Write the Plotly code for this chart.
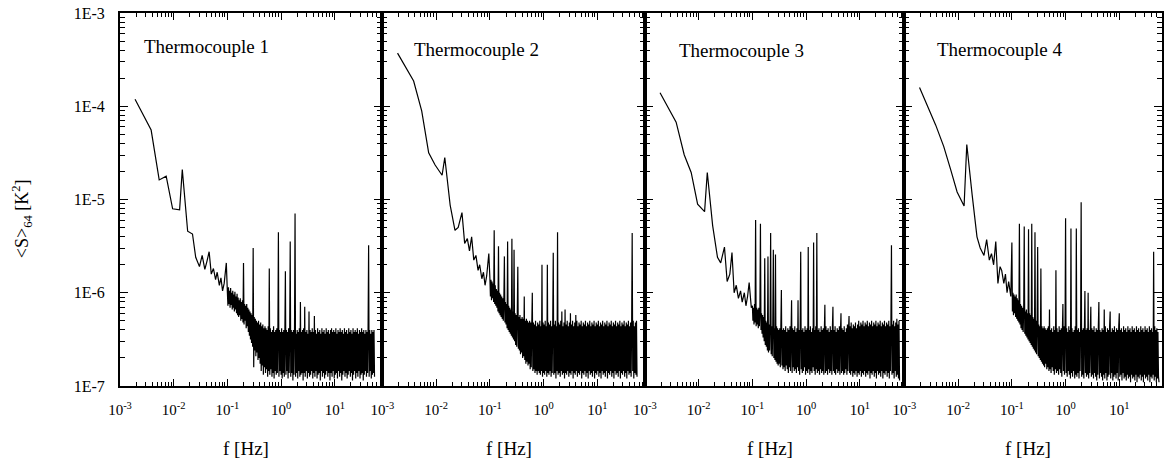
import plotly.graph_objects as go

# frequency bins, log10(f / Hz)
LOG_F = [
    -2.72, -2.42, -2.27, -2.14, -2.02, -1.89, -1.84, -1.74, -1.65, -1.59,
    -1.52, -1.47, -1.42, -1.38, -1.34, -1.30, -1.26, -1.22, -1.19, -1.15,
    -1.12, -1.09, -1.06, -1.02,
    -1.00, -0.99, -0.98, -0.97, -0.96, -0.95, -0.94, -0.93, -0.92, -0.91,
    -0.90, -0.89, -0.88, -0.87, -0.86, -0.85, -0.84, -0.83, -0.82, -0.81,
    -0.80, -0.79, -0.78, -0.77, -0.76, -0.75, -0.74, -0.73, -0.72, -0.71,
    -0.70, -0.69, -0.68, -0.67, -0.66, -0.65, -0.64, -0.63, -0.62, -0.61,
    -0.60, -0.59, -0.58, -0.57, -0.56, -0.55, -0.54, -0.53, -0.52, -0.51,
    -0.50, -0.49, -0.48, -0.47, -0.46, -0.45, -0.44, -0.43, -0.42, -0.41,
    -0.40, -0.39, -0.38, -0.37, -0.36, -0.35, -0.34, -0.33, -0.32, -0.31,
    -0.30, -0.29, -0.28, -0.27, -0.26, -0.25, -0.24, -0.23, -0.22, -0.21,
    -0.20, -0.19, -0.18, -0.17, -0.16, -0.15, -0.14, -0.13, -0.12, -0.11,
    -0.10, -0.09, -0.08, -0.07, -0.06, -0.05, -0.04, -0.03, -0.02, -0.01,
    0.00, 0.01, 0.02, 0.03, 0.04, 0.05, 0.06, 0.07, 0.08, 0.09,
    0.10, 0.11, 0.12, 0.13, 0.14, 0.15, 0.16, 0.17, 0.18, 0.19,
    0.20, 0.21, 0.22, 0.23, 0.24, 0.25, 0.26, 0.27, 0.28, 0.29,
    0.30, 0.31, 0.32, 0.33, 0.34, 0.35, 0.36, 0.37, 0.38, 0.39,
    0.40, 0.41, 0.42, 0.43, 0.44, 0.45, 0.46, 0.47, 0.48, 0.49,
    0.50, 0.51, 0.52, 0.53, 0.54, 0.55, 0.56, 0.57, 0.58, 0.59,
    0.60, 0.61, 0.62, 0.63, 0.64, 0.65, 0.66, 0.67, 0.68, 0.69,
    0.70, 0.71, 0.72, 0.73, 0.74, 0.75, 0.76, 0.77, 0.78, 0.79,
    0.80, 0.81, 0.82, 0.83, 0.84, 0.85, 0.86, 0.87, 0.88, 0.89,
    0.90, 0.91, 0.92, 0.93, 0.94, 0.95, 0.96, 0.97, 0.98, 0.99,
    1.00, 1.01, 1.02, 1.03, 1.04, 1.05, 1.06, 1.07, 1.08, 1.09,
    1.10, 1.11, 1.12, 1.13, 1.14, 1.15, 1.16, 1.17, 1.18, 1.19,
    1.20, 1.21, 1.22, 1.23, 1.24, 1.25, 1.26, 1.27, 1.28, 1.29,
    1.30, 1.31, 1.32, 1.33, 1.34, 1.35, 1.36, 1.37, 1.38, 1.39,
    1.40, 1.41, 1.42, 1.43, 1.44, 1.45, 1.46, 1.47, 1.48, 1.49,
    1.50, 1.51, 1.52, 1.53, 1.54, 1.55, 1.56, 1.57, 1.58, 1.59,
    1.60, 1.61, 1.62, 1.63, 1.64, 1.65, 1.66, 1.67, 1.68, 1.69,
    1.70, 1.71, 1.72, 1.73, 1.74,
]

# spectra, log10(<S>64 / K^2)
TC1_LOG_S = [
    -3.925, -4.255, -4.79, -4.75, -5.10, -5.11, -4.68, -5.34, -5.37, -5.62,
    -5.72, -5.60, -5.75, -5.66, -5.56, -5.80, -5.74, -5.86, -5.78, -5.92,
    -5.84, -5.98, -5.90, -5.68,
    -6.00, -6.14, -5.94, -6.12, -5.98, -6.16, -5.95, -6.13, -6.00, -6.18,
    -5.98, -6.16, -6.02, -6.20, -5.99, -6.18, -6.04, -6.22, -6.01, -6.24,
    -6.05, -6.26, -6.08, -6.24, -6.06, -6.30, -6.10, -6.28, -6.08, -6.32,
    -5.68, -6.34, -6.12, -6.30, -6.14, -6.38, -6.12, -6.36, -6.16, -6.42,
    -6.18, -6.46, -6.20, -6.50, -6.22, -6.54, -6.24, -6.58, -5.52, -6.80,
    -6.26, -6.62, -6.28, -6.68, -6.30, -6.64, -6.32, -6.72, -6.30, -6.70,
    -6.34, -6.76, -6.32, -6.84, -6.36, -6.78, -6.34, -6.88, -6.38, -6.80,
    -6.36, -6.86, -6.38, -6.82, -6.40, -6.90, -6.36, -6.84, -5.74, -6.88,
    -6.38, -6.82, -6.42, -6.90, -6.40, -6.86, -6.36, -6.92, -6.42, -6.84,
    -6.40, -6.88, -6.38, -6.86, -6.44, -5.35, -6.90, -6.40, -6.84, -6.42,
    -6.88, -6.38, -6.92, -6.42, -6.86, -6.40, -6.90, -6.44, -5.77, -6.88,
    -6.40, -6.84, -6.42, -6.92, -6.38, -6.86, -6.44, -5.45, -6.90, -6.40,
    -6.86, -6.42, -6.94, -6.40, -6.88, -6.38, -5.15, -6.90, -6.44, -6.86,
    -6.40, -6.92, -6.42, -6.84, -6.38, -6.90, -6.10, -6.88, -6.42, -6.86,
    -6.40, -6.94, -6.38, -6.86, -6.15, -6.90, -6.42, -6.84, -6.40, -6.92,
    -6.44, -6.86, -6.20, -6.90, -6.40, -6.88, -6.42, -6.84, -6.38, -6.92,
    -6.42, -6.86, -6.25, -6.90, -6.40, -6.84, -6.44, -6.92, -6.38, -6.88,
    -6.42, -6.86, -6.40, -6.94, -6.44, -6.84, -6.38, -6.90, -6.42, -6.86,
    -6.40, -6.92, -6.44, -6.88, -6.38, -6.84, -6.42, -6.90, -6.40, -6.86,
    -6.44, -6.94, -6.40, -6.86, -6.38, -6.90, -6.42, -6.84, -6.40, -6.92,
    -6.42, -6.88, -6.38, -6.86, -6.44, -6.92, -6.40, -6.84, -6.42, -6.90,
    -6.38, -6.86, -6.42, -6.94, -6.40, -6.88, -6.44, -6.84, -6.38, -6.90,
    -6.42, -6.86, -6.40, -6.92, -6.44, -6.88, -6.38, -6.84, -6.42, -6.90,
    -6.40, -6.86, -6.44, -6.94, -6.38, -6.88, -6.42, -6.84, -6.40, -6.92,
    -6.42, -6.86, -6.38, -6.90, -6.44, -6.84, -6.40, -6.92, -6.42, -6.88,
    -6.38, -6.86, -6.42, -6.94, -6.40, -6.88, -6.44, -6.84, -6.40, -6.90,
    -6.42, -6.86, -6.38, -5.49, -6.90, -6.40, -6.84, -6.44, -6.92, -6.40,
    -6.88, -6.42, -6.86, -6.40, -6.90,
]

TC2_LOG_S = [
    -3.43, -3.73, -4.05, -4.50, -4.63, -4.74, -4.55, -5.06, -5.33, -5.30,
    -5.14, -5.47, -5.42, -5.55, -5.40, -5.65, -5.60, -5.76, -5.70, -5.85,
    -5.78, -5.92, -5.82, -5.58,
    -5.84, -6.04, -5.86, -6.08, -5.88, -6.06, -5.90, -6.10, -5.33, -6.12,
    -5.92, -6.14, -5.96, -6.16, -5.98, -6.20, -5.50, -6.22, -6.00, -6.24,
    -6.02, -6.26, -6.04, -6.28, -6.06, -6.30, -6.08, -5.61, -6.32, -6.10,
    -6.34, -6.12, -6.38, -5.45, -6.40, -6.14, -6.42, -6.16, -6.44, -6.18,
    -6.46, -5.42, -6.48, -6.20, -6.50, -5.54, -6.52, -6.22, -6.56, -6.24,
    -6.58, -6.22, -5.72, -6.60, -6.26, -6.62, -6.24, -6.66, -6.28, -6.64,
    -6.26, -6.70, -6.28, -6.68, -6.04, -6.72, -6.30, -6.76, -6.28, -6.74,
    -6.30, -6.78, -6.32, -6.76, -6.30, -6.82, -6.32, -6.80, -6.34, -6.00,
    -6.84, -6.32, -6.82, -6.34, -6.86, -6.30, -6.84, -6.36, -6.88, -6.32,
    -6.84, -6.34, -6.86, -6.30, -6.88, -6.36, -6.84, -5.70, -6.90, -6.32,
    -6.86, -6.34, -6.88, -6.30, -6.84, -6.36, -6.90, -5.70, -6.86, -6.32,
    -6.88, -6.34, -6.84, -6.30, -6.90, -6.36, -6.86, -6.32, -5.57, -6.88,
    -6.34, -6.86, -6.30, -6.92, -6.36, -6.84, -5.35, -6.88, -6.32, -6.86,
    -6.34, -6.90, -6.30, -6.84, -6.20, -6.88, -6.36, -6.86, -6.32, -6.92,
    -6.18, -6.86, -6.34, -6.88, -6.30, -6.84, -6.36, -6.90, -6.32, -6.86,
    -6.22, -6.88, -6.34, -6.84, -6.30, -6.92, -6.36, -6.86, -6.32, -6.88,
    -6.24, -6.84, -6.30, -6.90, -6.36, -6.86, -6.32, -6.88, -6.34, -6.84,
    -6.30, -6.92, -6.36, -6.86, -6.32, -6.88, -6.34, -6.84, -6.30, -6.90,
    -6.36, -6.86, -6.32, -6.92, -6.34, -6.84, -6.30, -6.88, -6.36, -6.86,
    -6.32, -6.90, -6.34, -6.84, -6.30, -6.92, -6.36, -6.86, -6.32, -6.88,
    -6.34, -6.84, -6.30, -6.90, -6.36, -6.86, -6.32, -6.92, -6.34, -6.84,
    -6.30, -6.88, -6.36, -6.86, -6.32, -6.90, -6.34, -6.84, -6.30, -6.92,
    -6.36, -6.86, -6.32, -6.88, -6.34, -6.84, -6.30, -6.90, -6.36, -6.86,
    -6.32, -6.92, -6.34, -6.84, -6.30, -6.88, -6.36, -6.86, -6.32, -6.90,
    -6.34, -6.84, -6.30, -6.92, -6.36, -6.86, -6.32, -6.88, -6.34, -6.84,
    -6.30, -6.90, -6.36, -6.86, -6.32, -6.92, -6.34, -6.84, -6.30, -6.88,
    -6.36, -6.86, -6.32, -6.90, -6.34, -5.36, -6.84, -6.30, -6.92, -6.36,
    -6.86, -6.32, -6.88, -6.30, -6.90,
]

TC3_LOG_S = [
    -3.855, -4.17, -4.52, -4.71, -5.05, -5.13, -4.71, -5.28, -5.62, -5.68,
    -5.51, -5.88, -5.80, -5.57, -6.00, -5.92, -6.06, -5.98, -6.10, -6.00,
    -6.14, -6.04, -5.89, -6.16,
    -6.14, -6.30, -6.16, -6.34, -6.12, -6.32, -5.22, -6.36, -6.16, -6.34,
    -6.18, -6.38, -6.16, -6.36, -6.20, -5.26, -6.40, -6.22, -6.44, -6.24,
    -6.48, -6.26, -6.52, -5.63, -6.56, -6.30, -6.58, -6.32, -6.62, -5.61,
    -6.64, -6.34, -6.62, -6.32, -5.36, -6.66, -6.36, -6.68, -6.34, -5.54,
    -6.70, -6.38, -6.72, -5.59, -6.74, -6.36, -6.76, -6.38, -6.78, -6.40,
    -6.76, -6.38, -6.80, -6.36, -5.97, -6.78, -6.40, -6.82, -6.38, -6.80,
    -6.40, -6.84, -6.36, -6.78, -6.42, -6.82, -6.38, -6.86, -6.40, -6.80,
    -6.36, -6.84, -6.42, -6.08, -6.86, -6.38, -6.80, -6.40, -6.84, -6.36,
    -6.82, -6.42, -6.86, -6.38, -6.80, -6.08, -6.84, -6.40, -6.88, -6.36,
    -5.56, -6.82, -6.40, -6.86, -6.38, -6.84, -6.42, -6.80, -6.36, -6.88,
    -6.40, -6.84, -6.38, -6.86, -5.51, -6.82, -6.40, -6.88, -6.36, -6.84,
    -6.42, -6.86, -6.38, -6.80, -5.46, -6.84, -6.40, -6.88, -6.36, -6.82,
    -5.36, -6.86, -6.40, -6.84, -6.38, -6.88, -6.42, -6.82, -6.36, -6.86,
    -6.40, -6.84, -6.38, -6.88, -6.42, -6.13, -6.86, -6.36, -6.84, -6.40,
    -6.88, -6.38, -6.82, -6.42, -6.86, -6.36, -6.84, -6.40, -6.88, -6.38,
    -6.15, -6.84, -6.40, -6.86, -6.36, -6.88, -6.42, -6.82, -6.38, -6.86,
    -6.40, -6.84, -6.36, -6.88, -6.42, -6.22, -6.86, -6.38, -6.84, -6.40,
    -6.88, -6.36, -6.86, -6.42, -6.82, -6.38, -6.88, -6.34, -6.84, -6.40,
    -6.25, -6.86, -6.36, -6.88, -6.32, -6.84, -6.38, -6.90, -6.34, -6.86,
    -6.36, -6.88, -6.32, -6.84, -6.38, -6.90, -6.34, -6.86, -6.30, -6.88,
    -6.36, -6.84, -6.32, -6.90, -6.34, -6.86, -6.30, -6.88, -6.36, -6.84,
    -6.32, -6.90, -6.34, -6.86, -6.30, -6.88, -6.36, -6.84, -6.32, -6.92,
    -6.34, -6.86, -6.30, -6.88, -6.36, -6.84, -6.32, -6.90, -6.34, -6.86,
    -6.30, -6.92, -6.36, -6.84, -6.32, -6.88, -6.34, -6.86, -6.30, -6.90,
    -6.36, -6.84, -6.32, -6.92, -6.34, -6.86, -6.30, -6.88, -6.36, -6.84,
    -6.32, -6.90, -6.34, -6.86, -6.30, -6.92, -6.36, -6.84, -6.32, -5.49,
    -6.88, -6.34, -6.86, -6.30, -6.92, -6.36, -6.84, -6.32, -6.90, -6.28,
    -6.88, -6.34, -6.92, -6.30, -6.94,
]

TC4_LOG_S = [
    -3.80, -4.20, -4.43, -4.68, -4.92, -5.07, -4.41, -4.95, -5.40, -5.52,
    -5.60, -5.43, -5.65, -5.58, -5.70, -5.45, -5.90, -5.72, -5.76, -5.90,
    -5.80, -6.00, -5.88, -6.04,
    -5.46, -6.20, -6.00, -6.24, -6.02, -6.22, -6.04, -6.26, -6.02, -6.28,
    -6.06, -6.30, -6.08, -6.32, -5.26, -6.34, -6.12, -6.38, -6.14, -6.40,
    -6.16, -6.42, -6.18, -5.29, -6.44, -6.20, -6.46, -6.18, -6.48, -6.22,
    -6.50, -5.32, -6.52, -6.22, -6.54, -6.24, -6.56, -5.26, -6.58, -6.26,
    -6.60, -6.28, -6.62, -5.35, -6.64, -6.30, -6.66, -6.32, -5.51, -6.68,
    -6.34, -6.70, -6.36, -6.72, -5.74, -6.74, -6.36, -6.76, -6.38, -6.78,
    -6.36, -6.80, -6.38, -6.76, -6.40, -6.82, -6.38, -6.80, -6.36, -6.84,
    -6.18, -6.82, -6.40, -6.86, -6.38, -6.80, -6.42, -6.84, -6.36, -6.88,
    -6.40, -6.82, -5.76, -6.86, -6.38, -6.84, -6.42, -6.88, -6.36, -6.82,
    -6.40, -6.86, -6.38, -6.90, -6.42, -6.12, -6.84, -6.36, -6.88, -6.40,
    -5.20, -6.86, -6.38, -6.90, -6.42, -6.84, -6.36, -6.88, -6.40, -6.92,
    -5.31, -6.86, -6.38, -6.90, -6.42, -6.84, -6.40, -6.92, -6.36, -6.88,
    -5.31, -6.90, -6.40, -6.86, -6.38, -6.92, -6.42, -6.84, -6.36, -5.03,
    -6.90, -6.40, -6.88, -6.38, -6.92, -6.42, -5.98, -6.86, -6.40, -6.90,
    -6.38, -6.88, -6.00, -6.92, -6.40, -6.86, -6.42, -6.15, -6.90, -6.38,
    -6.88, -6.40, -6.92, -6.36, -6.86, -6.42, -6.90, -6.38, -6.94, -6.40,
    -6.88, -6.36, -6.10, -6.92, -6.40, -6.86, -6.42, -6.90, -6.38, -6.94,
    -6.40, -6.88, -6.18, -6.92, -6.36, -6.86, -6.42, -6.94, -6.38, -6.90,
    -6.40, -6.88, -6.36, -6.20, -6.92, -6.42, -6.86, -6.38, -6.94, -6.40,
    -6.90, -6.36, -6.88, -6.42, -6.92, -6.38, -6.86, -6.40, -6.94, -6.36,
    -6.22, -6.90, -6.40, -6.88, -6.38, -6.94, -6.42, -6.86, -6.36, -6.92,
    -6.40, -6.90, -6.38, -6.94, -6.42, -6.88, -6.36, -6.92, -6.40, -6.90,
    -6.38, -6.96, -6.42, -6.88, -6.36, -6.92, -6.40, -6.90, -6.38, -6.94,
    -6.42, -6.88, -6.36, -6.96, -6.40, -6.90, -6.38, -6.92, -6.42, -6.88,
    -6.36, -6.94, -6.40, -6.90, -6.38, -6.96, -6.42, -6.88, -6.36, -6.92,
    -6.40, -6.90, -6.38, -6.94, -6.42, -6.88, -6.36, -6.96, -6.40, -6.90,
    -6.38, -6.92, -6.42, -6.88, -5.56, -6.94, -6.36, -6.90, -6.40, -6.96,
    -6.38, -6.92, -6.42, -6.90, -6.96,
]

PANEL_LABELS = ["Thermocouple 1", "Thermocouple 2", "Thermocouple 3", "Thermocouple 4"]
X_TICK_VALS = [1e-3, 1e-2, 1e-1, 1e0, 1e1]
X_TICK_TEXT = ["10<sup>-3</sup>", "10<sup>-2</sup>", "10<sup>-1</sup>", "10<sup>0</sup>", "10<sup>1</sup>"]
Y_TICK_VALS = [1e-7, 1e-6, 1e-5, 1e-4, 1e-3]
Y_TICK_TEXT = ["1E-7", "1E-6", "1E-5", "1E-4", "1E-3"]
X_TITLE = "f [Hz]"
Y_TITLE = "&lt;S&gt;<sub>64</sub> [K<sup>2</sup>]"

SERIES = [TC1_LOG_S, TC2_LOG_S, TC3_LOG_S, TC4_LOG_S]
for s in SERIES:
    assert len(s) == len(LOG_F), (len(s), len(LOG_F))

F_HZ = [10 ** v for v in LOG_F]

W, H = 1164, 463
ML, MR, MT, MB = 120, 0, 13, 77
PW = W - ML - MR
PH = H - MT - MB
PANEL_PX = [(120, 383), (383, 646), (646, 906), (906, 1164)]
PX_PER_DEC = 53.8
LABEL_POS = [(142, 47), (413, 50), (678, 51), (937, 50)]

FONT = "Liberation Serif"

fig = go.Figure()
for i, s in enumerate(SERIES):
    n = "" if i == 0 else str(i + 1)
    fig.add_trace(go.Scatter(
        x=F_HZ, y=[10 ** v for v in s], mode="lines",
        line=dict(color="black", width=1.2, simplify=False),
        xaxis="x" + n, yaxis="y" + n, showlegend=False, hoverinfo="skip",
    ))

layout = dict(
    width=W, height=H,
    margin=dict(l=ML, r=MR, t=MT, b=MB),
    paper_bgcolor="white", plot_bgcolor="white",
    font=dict(family=FONT, color="black"),
    showlegend=False,
)
annotations = []
for i in range(4):
    n = "" if i == 0 else str(i + 1)
    a, b = PANEL_PX[i]
    d0 = (a - ML) / PW
    d1 = (b - ML) / PW
    xmax = -3 + (b - a) / PX_PER_DEC
    layout["xaxis" + n] = dict(
        domain=[d0, d1], type="log", range=[-3, xmax], anchor="y" + n,
        tickmode="array", tickvals=X_TICK_VALS, ticktext=X_TICK_TEXT,
        ticks="inside", ticklen=7, tickwidth=1, tickcolor="black",
        minor=dict(ticks="inside", ticklen=4, tickwidth=1, tickcolor="black", dtick="D1"),
        showline=True, linewidth=2, linecolor="black", mirror="ticks",
        showgrid=False, zeroline=False,
        tickfont=dict(family=FONT, size=15, color="black"),
        ticklabelstandoff=9,
    )
    layout["yaxis" + n] = dict(
        domain=[0, 1], type="log", range=[-7, -3], anchor="x" + n,
        tickmode="array", tickvals=Y_TICK_VALS, ticktext=Y_TICK_TEXT,
        showticklabels=(i == 0),
        ticks="inside", ticklen=8, tickwidth=1, tickcolor="black",
        minor=dict(ticks="inside", ticklen=5, tickwidth=1, tickcolor="black", dtick="D1"),
        showline=True, linewidth=2, linecolor="black", mirror="ticks",
        showgrid=False, zeroline=False,
        tickfont=dict(family=FONT, size=16, color="black"),
        ticklabelstandoff=10,
    )
    lx, ly = LABEL_POS[i]
    annotations.append(dict(
        text=PANEL_LABELS[i], xref="paper", yref="paper",
        x=(lx - ML) / PW, y=(H - MB - ly) / PH, xanchor="left", yanchor="middle",
        showarrow=False, font=dict(family=FONT, size=19, color="black"),
    ))
    annotations.append(dict(
        text=X_TITLE, xref="paper", yref="paper",
        x=((a + b) / 2 - 5 - ML) / PW, y=(H - MB - 448) / PH,
        xanchor="center", yanchor="middle",
        showarrow=False, font=dict(family=FONT, size=19, color="black"),
    ))
annotations.append(dict(
    text=Y_TITLE, xref="paper", yref="paper",
    x=(22 - ML) / PW, y=(H - MB - 219) / PH, xanchor="center", yanchor="middle",
    textangle=-90, showarrow=False, font=dict(family=FONT, size=18, color="black"),
))
layout["annotations"] = annotations
fig.update_layout(**layout)
fig.write_html("out.html")
